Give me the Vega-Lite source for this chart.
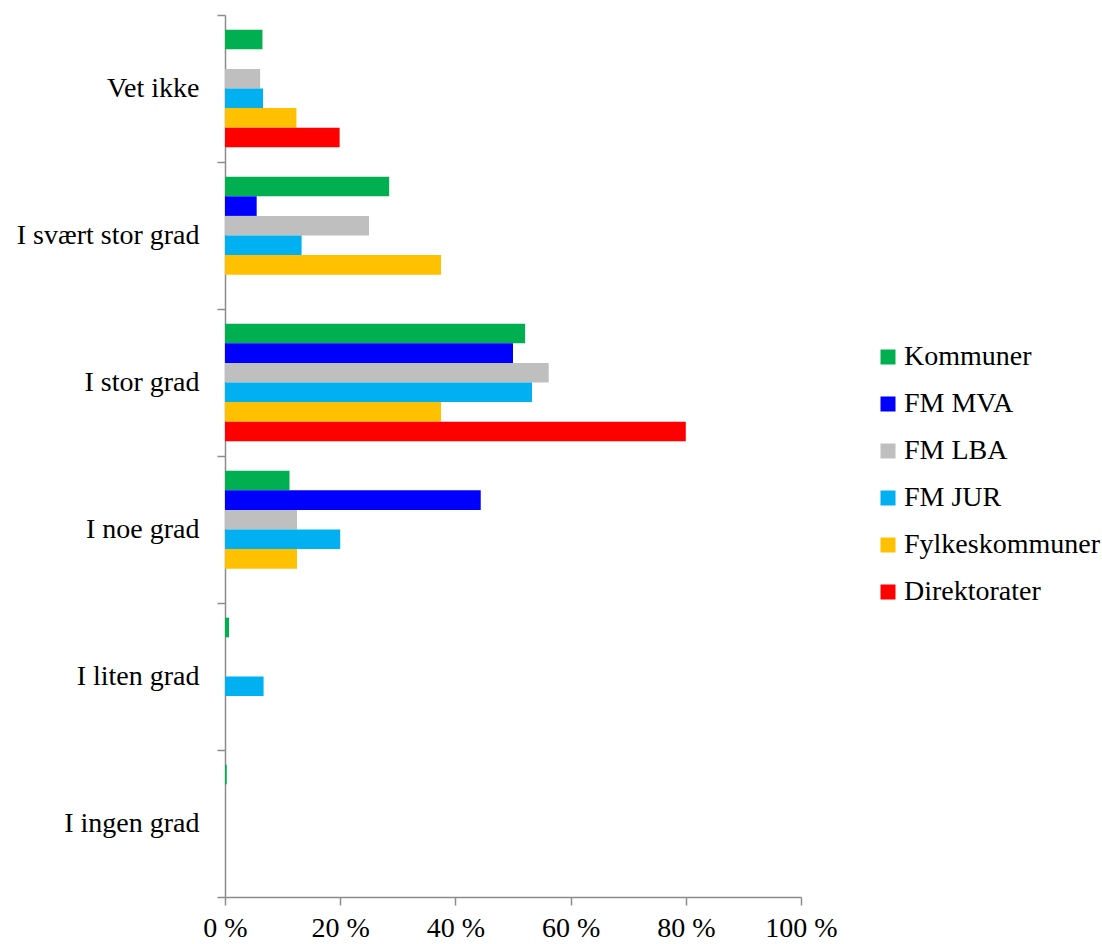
{
  "$schema": "https://vega.github.io/schema/vega-lite/v6.json",
  "width": 576,
  "height": 882,
  "autosize": {"type": "none"},
  "padding": {"left": 225, "top": 15, "right": 301, "bottom": 47},
  "background": "white",
  "data": {
    "values": [
      {"kategori": "Vet ikke", "gruppe": "Kommuner", "andel": 6.5},
      {"kategori": "Vet ikke", "gruppe": "FM MVA", "andel": 0},
      {"kategori": "Vet ikke", "gruppe": "FM LBA", "andel": 6.1},
      {"kategori": "Vet ikke", "gruppe": "FM JUR", "andel": 6.6},
      {"kategori": "Vet ikke", "gruppe": "Fylkeskommuner", "andel": 12.4},
      {"kategori": "Vet ikke", "gruppe": "Direktorater", "andel": 19.9},
      {"kategori": "I svært stor grad", "gruppe": "Kommuner", "andel": 28.5},
      {"kategori": "I svært stor grad", "gruppe": "FM MVA", "andel": 5.5},
      {"kategori": "I svært stor grad", "gruppe": "FM LBA", "andel": 25.0},
      {"kategori": "I svært stor grad", "gruppe": "FM JUR", "andel": 13.3},
      {"kategori": "I svært stor grad", "gruppe": "Fylkeskommuner", "andel": 37.5},
      {"kategori": "I svært stor grad", "gruppe": "Direktorater", "andel": 0},
      {"kategori": "I stor grad", "gruppe": "Kommuner", "andel": 52.1},
      {"kategori": "I stor grad", "gruppe": "FM MVA", "andel": 50.0},
      {"kategori": "I stor grad", "gruppe": "FM LBA", "andel": 56.2},
      {"kategori": "I stor grad", "gruppe": "FM JUR", "andel": 53.3},
      {"kategori": "I stor grad", "gruppe": "Fylkeskommuner", "andel": 37.5},
      {"kategori": "I stor grad", "gruppe": "Direktorater", "andel": 80.0},
      {"kategori": "I noe grad", "gruppe": "Kommuner", "andel": 11.2},
      {"kategori": "I noe grad", "gruppe": "FM MVA", "andel": 44.4},
      {"kategori": "I noe grad", "gruppe": "FM LBA", "andel": 12.5},
      {"kategori": "I noe grad", "gruppe": "FM JUR", "andel": 20.0},
      {"kategori": "I noe grad", "gruppe": "Fylkeskommuner", "andel": 12.5},
      {"kategori": "I noe grad", "gruppe": "Direktorater", "andel": 0},
      {"kategori": "I liten grad", "gruppe": "Kommuner", "andel": 0.7},
      {"kategori": "I liten grad", "gruppe": "FM MVA", "andel": 0},
      {"kategori": "I liten grad", "gruppe": "FM LBA", "andel": 0},
      {"kategori": "I liten grad", "gruppe": "FM JUR", "andel": 6.7},
      {"kategori": "I liten grad", "gruppe": "Fylkeskommuner", "andel": 0},
      {"kategori": "I liten grad", "gruppe": "Direktorater", "andel": 0},
      {"kategori": "I ingen grad", "gruppe": "Kommuner", "andel": 0.3},
      {"kategori": "I ingen grad", "gruppe": "FM MVA", "andel": 0},
      {"kategori": "I ingen grad", "gruppe": "FM LBA", "andel": 0},
      {"kategori": "I ingen grad", "gruppe": "FM JUR", "andel": 0},
      {"kategori": "I ingen grad", "gruppe": "Fylkeskommuner", "andel": 0},
      {"kategori": "I ingen grad", "gruppe": "Direktorater", "andel": 0}
    ]
  },
  "mark": {"type": "bar", "stroke": null},
  "encoding": {
    "y": {
      "field": "kategori",
      "type": "nominal",
      "sort": ["Vet ikke", "I svært stor grad", "I stor grad", "I noe grad", "I liten grad", "I ingen grad"],
      "scale": {"paddingInner": 0, "paddingOuter": 0},
      "axis": {
        "title": null,
        "tickBand": "extent",
        "tickSize": 8,
        "tickColor": "#8c8c8c",
        "tickWidth": 1.5,
        "domainColor": "#8c8c8c",
        "domainWidth": 1.5,
        "labelFont": "Liberation Serif",
        "labelFontSize": 28,
        "labelColor": "#000000",
        "labelPadding": 18,
        "labelLimit": 300
      }
    },
    "yOffset": {
      "field": "gruppe",
      "type": "nominal",
      "sort": ["Kommuner", "FM MVA", "FM LBA", "FM JUR", "Fylkeskommuner", "Direktorater"],
      "scale": {"paddingInner": 0, "paddingOuter": 0.75}
    },
    "x": {
      "field": "andel",
      "type": "quantitative",
      "scale": {"domain": [0, 100], "nice": false},
      "axis": {
        "title": null,
        "values": [0, 20, 40, 60, 80, 100],
        "labelExpr": "datum.value + ' %'",
        "grid": false,
        "tickSize": 8,
        "tickColor": "#8c8c8c",
        "tickWidth": 1.5,
        "domainColor": "#8c8c8c",
        "domainWidth": 1.5,
        "labelFont": "Liberation Serif",
        "labelFontSize": 28,
        "labelColor": "#000000",
        "labelPadding": 9,
        "labelFlush": false
      }
    },
    "color": {
      "field": "gruppe",
      "type": "nominal",
      "sort": ["Kommuner", "FM MVA", "FM LBA", "FM JUR", "Fylkeskommuner", "Direktorater"],
      "scale": {
        "domain": ["Kommuner", "FM MVA", "FM LBA", "FM JUR", "Fylkeskommuner", "Direktorater"],
        "range": ["#00B050", "#0000FF", "#BFBFBF", "#00B0F0", "#FFC000", "#FF0000"]
      },
      "legend": {
        "title": null,
        "orient": "none",
        "legendX": 649,
        "legendY": 328,
        "padding": 0,
        "symbolType": "square",
        "symbolSize": 225,
        "symbolStrokeWidth": 0,
        "symbolOpacity": 1,
        "labelFont": "Liberation Serif",
        "labelFontSize": 28,
        "labelColor": "#000000",
        "labelOffset": 2,
        "rowPadding": 19,
        "labelLimit": 300
      }
    }
  },
  "config": {"view": {"stroke": null}}
}
